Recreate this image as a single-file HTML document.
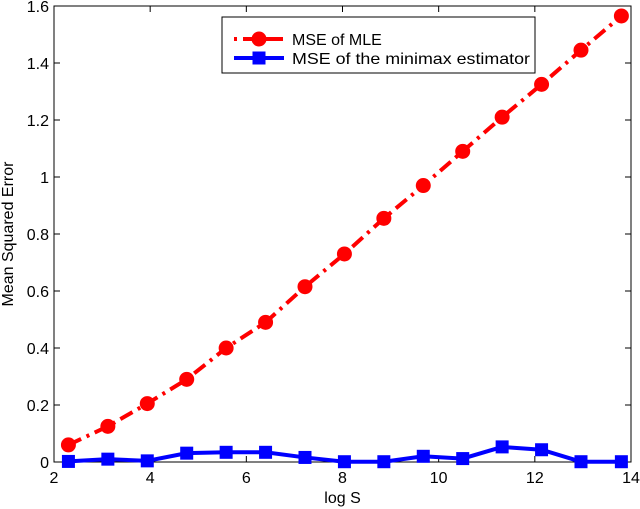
<!DOCTYPE html>
<html><head><meta charset="utf-8"><style>
body{margin:0;background:#fff;}
svg{display:block;font-family:"Liberation Sans",Arial,sans-serif;}
</style></head><body>
<svg id="chart" width="640" height="509" viewBox="0 0 640 509" xmlns="http://www.w3.org/2000/svg"></svg>
<script>
const xValues=[2.3,3.12,3.94,4.76,5.58,6.4,7.22,8.04,8.86,9.68,10.5,11.32,12.14,12.96,13.8];
const mleValues=[0.06,0.125,0.205,0.29,0.40,0.49,0.615,0.73,0.855,0.97,1.09,1.21,1.325,1.445,1.565];
const minimaxValues=[0.002,0.01,0.004,0.031,0.034,0.034,0.016,0.001,0.001,0.02,0.012,0.053,0.043,0.001,0.001];
const xTicks=[2,4,6,8,10,12,14];
const yTicks=[0,0.2,0.4,0.6,0.8,1,1.2,1.4,1.6];
const seriesNames=["MSE of MLE","MSE of the minimax estimator"];

const L=54,R=631,T=6,B=462;
const sx=v=>L+(v-2)/12*(R-L);
const sy=v=>B-v/1.6*(B-T);
const svg=document.getElementById('chart');
const NS='http://www.w3.org/2000/svg';
function mk(tag,attrs,parent){const e=document.createElementNS(NS,tag);for(const k in attrs)e.setAttribute(k,attrs[k]);(parent||svg).appendChild(e);return e;}

const frame=mk('rect',{x:L,y:T,width:R-L,height:B-T,fill:'#fff',stroke:'#000','stroke-width':1});



xTicks.forEach(t=>{
  const x=sx(t);
  mk('line',{x1:x,y1:B,x2:x,y2:B-6,stroke:'#000'});
  mk('line',{x1:x,y1:T,x2:x,y2:T+6,stroke:'#000'});
  const tx=mk('text',{x:x,y:B+21,'text-anchor':'middle','font-size':16});
  tx.textContent=t;
  
  
});
yTicks.forEach(t=>{
  const y=sy(t);
  mk('line',{x1:L,y1:y,x2:L+6,y2:y,stroke:'#000'});
  mk('line',{x1:R,y1:y,x2:R-6,y2:y,stroke:'#000'});
  const tx=mk('text',{x:L-5,y:y+6,'text-anchor':'end','font-size':16});
  tx.textContent=String(t);
  
  
});
const xt=mk('text',{x:(L+R)/2,y:503,'text-anchor':'middle','font-size':16});
xt.textContent='log S';


const yt=mk('text',{x:13,y:(T+B)/2,'text-anchor':'middle','font-size':16,transform:`rotate(-90 13 ${(T+B)/2})`});
yt.textContent='Mean Squared Error';



const p1=mk('polyline',{points:xValues.map((x,i)=>sx(x)+','+sy(mleValues[i])).join(' '),fill:'none',stroke:'#f00','stroke-width':4,'stroke-dasharray':'14 6 3 6'});


xValues.forEach((x,i)=>{
  const c=mk('circle',{cx:sx(x),cy:sy(mleValues[i]),r:7.5,fill:'#f00'});
  
  
});
const p2=mk('polyline',{points:xValues.map((x,i)=>sx(x)+','+sy(minimaxValues[i])).join(' '),fill:'none',stroke:'#00f','stroke-width':4});


xValues.forEach((x,i)=>{
  const r=mk('rect',{x:sx(x)-6.5,y:sy(minimaxValues[i])-6.5,width:13,height:13,fill:'#00f'});
  
  
});

const lg=mk('g',{});


mk('rect',{x:222,y:17,width:313,height:56,fill:'#fff',stroke:'#000'},lg);
const e1=mk('g',{},lg);


mk('line',{x1:234,y1:39,x2:284,y2:39,stroke:'#f00','stroke-width':4,'stroke-dasharray':'3 6 14 6 20'},e1);
mk('circle',{cx:259,cy:39,r:7.5,fill:'#f00'},e1);
const t1=mk('text',{x:292,y:45,'font-size':16},e1);t1.textContent=seriesNames[0];
const e2=mk('g',{},lg);


mk('line',{x1:234,y1:58,x2:284,y2:58,stroke:'#00f','stroke-width':4},e2);
mk('rect',{x:252.5,y:51.5,width:13,height:13,fill:'#00f'},e2);
const t2=mk('text',{x:292,y:64,'font-size':16,textLength:238,lengthAdjust:'spacingAndGlyphs'},e2);t2.textContent=seriesNames[1];
</script>
</body></html>
